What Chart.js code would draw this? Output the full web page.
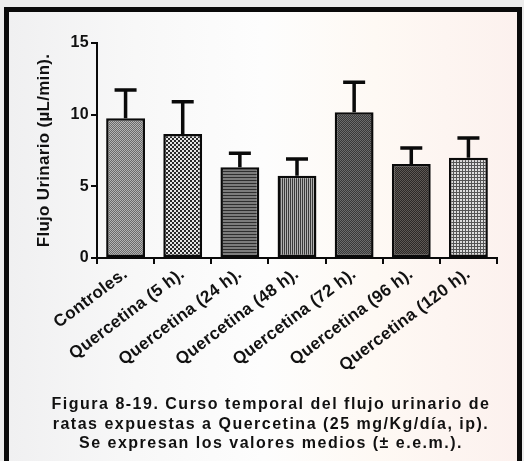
<!DOCTYPE html>
<html>
<head>
<meta charset="utf-8">
<script src="https://cdn.jsdelivr.net/npm/chart.js@4/dist/chart.umd.min.js"></script>
<style>
  html, body { margin:0; padding:0; width:524px; height:461px; overflow:hidden; background:#ececec; }
  #frame { position:absolute; left:4px; top:7px; width:508px; height:470px; border:5px solid #0a0a0a;
    background: linear-gradient(90deg, #f0f0f1 0%, #f8f8f8 25%, #fdfdfd 50%, #fef9f4 72%, #fcf1ee 100%); }
  #c { position:absolute; left:0; top:0; }
  #caption { position:absolute; left:20px; width:502px; top:394px; text-align:center;
    font: bold 16px "Liberation Sans", Arial, sans-serif; line-height:19.5px; letter-spacing:1.5px; color:#111; }
</style>
</head>
<body>
<div id="frame"></div>
<canvas id="c" width="524" height="461"></canvas>
<div id="caption">Figura 8-19. Curso temporal del flujo urinario de<br>ratas expuestas a Quercetina (25 mg/Kg/día, ip).<br>Se expresan los valores medios (± e.e.m.).</div>
<script>
const categories = ["Controles.", "Quercetina (5 h).", "Quercetina (24 h).", "Quercetina (48 h).", "Quercetina (72 h).", "Quercetina (96 h).", "Quercetina (120 h)."];
const means = [9.75, 8.65, 6.33, 5.74, 10.16, 6.56, 7.0];
const sems = [1.97, 2.25, 0.97, 1.16, 2.10, 1.12, 1.37];
const yTicks = [0, 5, 10, 15];
const yTitle = "Flujo Urinario (\u00b5L/min).";

function makePattern(w, h, draw) {
  const c = document.createElement('canvas');
  c.width = w; c.height = h;
  const x = c.getContext('2d');
  draw(x);
  return document.getElementById('c').getContext('2d').createPattern(c, 'repeat');
}
function checker(a, b, s) {
  return makePattern(2*s, 2*s, x => {
    x.fillStyle = a; x.fillRect(0,0,2*s,2*s);
    x.fillStyle = b; x.fillRect(0,0,s,s); x.fillRect(s,s,s,s);
  });
}
const patterns = [
  checker('#6a6a6a', '#b4b4b4', 1),
  checker('#2a2a2a', '#e6e6e6', 2),
  makePattern(3, 3, x => { x.fillStyle = '#7c7c7c'; x.fillRect(0,0,3,3); x.fillStyle = '#2e2e2e'; x.fillRect(0,0,3,1); }),
  makePattern(2, 2, x => { x.fillStyle = '#b0b0b0'; x.fillRect(0,0,2,2); x.fillStyle = '#3a3a3a'; x.fillRect(0,0,1,2); }),
  checker('#383838', '#6c6c6c', 1),
  checker('#2c2927', '#5e5955', 1),
  makePattern(3, 3, x => { x.fillStyle = '#dcdcdc'; x.fillRect(0,0,3,3); x.fillStyle = '#555'; x.fillRect(0,0,3,1); x.fillRect(0,0,1,3); })
];

const spacingPlugin = {
  id: 'spacing',
  beforeUpdate(chart) { chart.ctx.letterSpacing = '0.3px'; },
  beforeDraw(chart) { chart.ctx.letterSpacing = '0.3px'; }
};

const errorBars = {
  id: 'errorBars',
  afterDatasetsDraw(chart) {
    const ctx = chart.ctx;
    const ys = chart.scales.y;
    const meta = chart.getDatasetMeta(0);
    ctx.save();
    ctx.strokeStyle = '#0a0a0a';
    ctx.lineWidth = 3.5;
    ctx.lineCap = 'butt';
    meta.data.forEach((bar, i) => {
      const x = bar.x;
      const yb = ys.getPixelForValue(means[i]);
      const yt = ys.getPixelForValue(means[i] + sems[i]);
      ctx.beginPath();
      ctx.moveTo(x, yb); ctx.lineTo(x, yt);
      ctx.moveTo(x - 11, yt); ctx.lineTo(x + 11, yt);
      ctx.stroke();
    });
    ctx.restore();
  }
};

const FONT = '"Liberation Sans", Arial, sans-serif';
new Chart(document.getElementById('c'), {
  type: 'bar',
  data: {
    labels: categories,
    datasets: [{
      data: means,
      backgroundColor: patterns,
      borderColor: '#0a0a0a',
      borderWidth: 2.5,
      borderSkipped: false,
      barPercentage: 0.68,
      categoryPercentage: 1.0
    }]
  },
  options: {
    responsive: false,
    devicePixelRatio: 1,
    animation: false,
    layout: { padding: { left: 20, top: 43, right: 27, bottom: 0 } },
    plugins: { legend: { display: false }, tooltip: { enabled: false } },
    scales: {
      x: {
        offset: true,
        grid: { display: true, drawOnChartArea: false, drawTicks: true, tickLength: 6, color: '#0a0a0a', lineWidth: 2 },
        border: { display: true, color: '#0a0a0a', width: 2 },
        ticks: { color: '#111', font: { family: FONT, size: 17, weight: 'bold' }, minRotation: 37, maxRotation: 37, padding: 0, autoSkip: false },
        afterFit(s) { s.height = 461 - 258; }
      },
      y: {
        min: 0, max: 15,
        afterBuildTicks(s) { s.ticks = yTicks.map(v => ({ value: v })); },
        grid: { display: true, drawOnChartArea: false, drawTicks: true, tickLength: 6, color: '#0a0a0a', lineWidth: 2 },
        border: { display: true, color: '#0a0a0a', width: 2 },
        ticks: { color: '#111', font: { family: FONT, size: 16, weight: 'bold' }, padding: 2 },
        title: { display: true, text: yTitle, color: '#111', font: { family: FONT, size: 17, weight: 'bold' }, padding: { top: 14, bottom: 0 } },
        afterFit(s) { s.width = 97 - 20; }
      }
    }
  },
  plugins: [spacingPlugin, errorBars]
});
</script>
</body>
</html>
